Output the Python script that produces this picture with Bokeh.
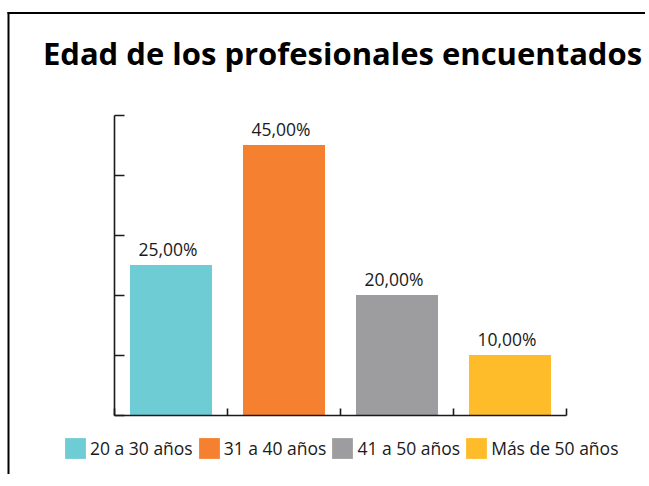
import numpy as np
from bokeh.plotting import figure
from bokeh.models import (ColumnDataSource, Range1d, FixedTicker, Legend, LegendItem,
                          Label, BoxAnnotation, LinearAxis)
from bokeh.core.properties import value
from bokeh.embed import file_html
from bokeh.resources import INLINE

title_text = "Edad de los profesionales encuentados"
categories = ["20 a 30 años", "31 a 40 años", "41 a 50 años", "Más de 50 años"]
values = [25.0, 45.0, 20.0, 10.0]
colors = ["#6ECCD4", "#F58030", "#9D9D9F", "#FEBB2A"]
y_ticks = [0, 10, 20, 30, 40, 50]
y_max = 50

W, H = 645, 474
# layout (canvas pixels): plot area left/right, baseline/top
AX_L, AX_R, AX_B, AX_T = 114.0, 566.0, 414.5, 114.5
n = len(categories)
sx = (AX_R - AX_L) / n          # px per x unit
sy = (AX_B - AX_T) / y_max      # px per y unit

def cx(px):
    return (px - AX_L) / sx

def cy(py):
    return (AX_B - py) / sy

xpos = np.arange(n) + 0.5
labels = [f"{v:.2f}".replace(".", ",") + "%" for v in values]
src = ColumnDataSource(dict(x=xpos, top=values, label=labels))

p = figure(width=W, height=H, output_backend="svg", toolbar_location=None,
           x_range=Range1d(cx(0), cx(W)), y_range=Range1d(cy(H), cy(0)),
           x_axis_type=None, y_axis_type=None,
           min_border=0, min_border_left=0, min_border_right=0,
           min_border_top=0, min_border_bottom=0)
p.outline_line_color = None
p.background_fill_color = "white"
p.border_fill_color = "white"
p.grid.visible = False

axis_color = "#1a1a1a"
xaxis = LinearAxis(fixed_location=0, bounds=(0, n),
                   ticker=FixedTicker(ticks=list(range(n + 1))))
yaxis = LinearAxis(fixed_location=0, bounds=(0, y_max),
                   ticker=FixedTicker(ticks=y_ticks))
for ax in (xaxis, yaxis):
    ax.axis_line_color = axis_color
    ax.axis_line_width = 1.6
    ax.major_tick_line_color = axis_color
    ax.major_tick_line_width = 1.6
    ax.minor_tick_line_color = None
    ax.major_tick_out = 0
    ax.major_label_text_font_size = "0px"
    ax.major_label_standoff = 0
xaxis.major_tick_in = 7
yaxis.major_tick_in = 10
p.add_layout(xaxis, "below")
p.add_layout(yaxis, "left")

renderers = []
for i in range(n):
    r = p.vbar(x=[xpos[i]], top=[values[i]], bottom=0, width=0.726,
               fill_color=colors[i], line_color=None)
    renderers.append(r)

p.text(x="x", y="top", text="label", source=src, text_align="center",
       text_baseline="alphabetic", y_offset=-16.5, x_offset=-3,
       text_font=value("Open Sans"), text_font_size="17.5px", text_color="#1a1a1a")

items = [LegendItem(label=categories[i], renderers=[renderers[i]]) for i in range(n)]
legend = Legend(items=items, location=(62, H - 461), orientation="horizontal",
                glyph_width=26, glyph_height=26, label_height=26, label_standoff=2,
                spacing=3, padding=0, margin=0, border_line_color=None,
                background_fill_alpha=0, label_text_font="Open Sans",
                label_text_font_size="17.5px", label_text_color="#1a1a1a")
p.add_layout(legend)

title = Label(x=cx(342), y=cy(52.5), text=title_text,
              text_align="center", text_baseline="alphabetic", text_font="Open Sans",
              text_font_style="bold", text_font_size="31px", text_color="black")
p.add_layout(title)

# outer frame: only the left and top edges fall inside the window
left_edge = BoxAnnotation(left=cx(7), right=cx(9), top=cy(11.5), bottom=cy(H),
                          fill_color="black", fill_alpha=1.0, line_color=None)
top_edge = BoxAnnotation(left=cx(7), right=cx(W), top=cy(11.5), bottom=cy(13.5),
                         fill_color="black", fill_alpha=1.0, line_color=None)
p.add_layout(left_edge)
p.add_layout(top_edge)

open("out.html", "w").write(file_html(p, INLINE))
